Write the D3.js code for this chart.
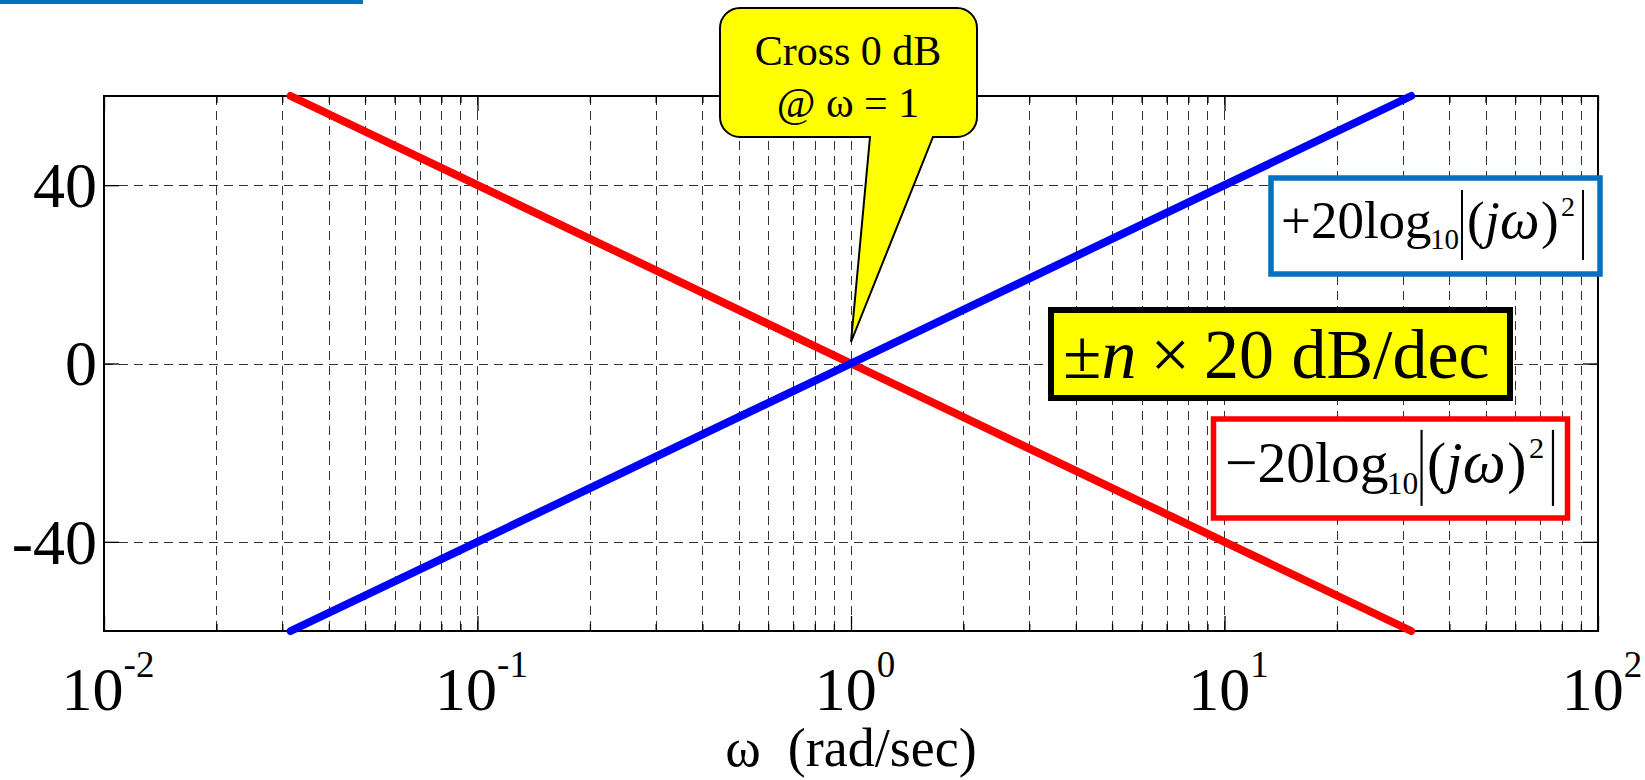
<!DOCTYPE html>
<html>
<head>
<meta charset="utf-8">
<script src="https://cdn.jsdelivr.net/npm/d3@7"></script>
<style>
  html, body { margin: 0; padding: 0; background: #fff; }
  svg { display: block; }
  text { font-family: 'Liberation Serif', 'Times New Roman', serif; fill: #000; }
</style>
</head>
<body>
<svg id="chart" width="1645" height="780"></svg>
<script>
// asymptote data (omega in rad/sec, magnitude in dB)
const omega = [0.0316, 0.1, 1, 10, 31.6]
const plusMag = [-60, -40, 0, 40, 60]     // +20log10|(jw)^2|
const minusMag = [60, 40, 0, -40, -60]    // -20log10|(jw)^2|

const yTicks = [-40, 0, 40]
const yTickLabels = ['-40', '0', '40']
const xDecades = [0.01, 0.1, 1, 10, 100]
const xExponents = ['-2', '-1', '0', '1', '2']

const W = 1645, H = 780
const plot = { left: 104, right: 1598, top: 96, bottom: 631 }

const svg = d3.select('#chart')
svg.append('rect').attr('width', W).attr('height', H).attr('fill', '#fff')

// slide header bar
svg.append('rect').attr('x', 0).attr('y', 0).attr('width', 363).attr('height', 4).attr('fill', '#0070c0')

const x = d3.scaleLog().domain([0.01, 100]).range([plot.left, plot.right])
const y = d3.scaleLinear().domain([-60, 60]).range([plot.bottom, plot.top])

const gridVals = x.ticks().filter(v => v > 0.01 && v < 100)
const majorX = xDecades
const minorX = x.ticks().filter(v => !xDecades.includes(v))

// grid
const grid = svg.append('g').attr('stroke', '#333').attr('stroke-width', 1)
    .attr('stroke-dasharray', '9,6').attr('shape-rendering', 'crispEdges')
grid.selectAll('.vg').data(gridVals).enter().append('line')
    .attr('x1', d => Math.round(x(d)) + 0.5).attr('x2', d => Math.round(x(d)) + 0.5)
    .attr('y1', plot.top).attr('y2', plot.bottom)
grid.selectAll('.hg').data(yTicks).enter().append('line')
    .attr('x1', plot.left).attr('x2', plot.right)
    .attr('y1', d => Math.round(y(d)) + 0.5).attr('y2', d => Math.round(y(d)) + 0.5)

// ticks (inside, mirrored on all four sides)
const h = plot.bottom - plot.top
const addAxis = (axis, tx, ty) => {
    const g = svg.append('g').attr('transform', `translate(${tx},${ty})`).call(axis)
    g.select('.domain').remove()
    g.selectAll('text').remove()
    g.selectAll('line').attr('stroke', '#000').attr('stroke-width', 1.3)
}
addAxis(d3.axisBottom(x).tickValues(majorX).tickSize(-15), 0, plot.bottom)
addAxis(d3.axisBottom(x).tickValues(minorX).tickSize(-7), 0, plot.bottom)
addAxis(d3.axisTop(x).tickValues(majorX).tickSize(-15), 0, plot.top)
addAxis(d3.axisTop(x).tickValues(minorX).tickSize(-7), 0, plot.top)
addAxis(d3.axisLeft(y).tickValues(yTicks).tickSize(-15), plot.left, 0)
addAxis(d3.axisRight(y).tickValues(yTicks).tickSize(-15), plot.right, 0)

// frame
svg.append('rect')
    .attr('x', plot.left).attr('y', plot.top)
    .attr('width', plot.right - plot.left).attr('height', h)
    .attr('fill', 'none').attr('stroke', '#000').attr('stroke-width', 2)

// tick labels
svg.selectAll('.ylab').data(yTicks).enter().append('text')
    .attr('x', 97).attr('y', d => y(d)).attr('dy', '0.34em')
    .attr('text-anchor', 'end').attr('font-size', 64)
    .text((d, i) => yTickLabels[i])

const xl = svg.selectAll('.xlab').data(xDecades).enter().append('text')
    .attr('x', d => x(d) + 4).attr('y', 710)
    .attr('text-anchor', 'middle').attr('font-size', 62)
xl.append('tspan').text('10')
xl.append('tspan').attr('dy', -33).attr('font-size', 37).text((d, i) => xExponents[i])

svg.append('text')
    .attr('x', (plot.left + plot.right) / 2).attr('y', 766)
    .attr('text-anchor', 'middle').attr('font-size', 54)
    .attr('xml:space', 'preserve')
    .text('\u03c9  (rad/sec)')

// asymptote lines
const line = d3.line().x(d => x(d[0])).y(d => y(d[1]))
const series = [
    { vals: minusMag, color: '#ff0000' },
    { vals: plusMag, color: '#0000ff' }
]
series.forEach(s => {
    svg.append('path')
        .datum(omega.map((w, i) => [w, s.vals[i]]))
        .attr('d', line)
        .attr('fill', 'none').attr('stroke', s.color)
        .attr('stroke-width', 8).attr('stroke-linecap', 'round').attr('stroke-linejoin', 'round')
})

// callout
const c = { l: 720, r: 977, t: 8, b: 137, rad: 20 }
svg.append('path')
    .attr('d', `M${c.l + c.rad},${c.t} H${c.r - c.rad} A${c.rad},${c.rad} 0 0 1 ${c.r},${c.t + c.rad}
        V${c.b - c.rad} A${c.rad},${c.rad} 0 0 1 ${c.r - c.rad},${c.b} H933 L${x(1)},342 L870,${c.b}
        H${c.l + c.rad} A${c.rad},${c.rad} 0 0 1 ${c.l},${c.b - c.rad} V${c.t + c.rad}
        A${c.rad},${c.rad} 0 0 1 ${c.l + c.rad},${c.t} Z`)
    .attr('fill', '#ffff00').attr('stroke', '#000').attr('stroke-width', 2)
svg.append('text').attr('x', 848).attr('y', 65).attr('text-anchor', 'middle').attr('font-size', 42).text('Cross 0 dB')
svg.append('text').attr('x', 848).attr('y', 117).attr('text-anchor', 'middle').attr('font-size', 42).text('@ \u03c9 = 1')

// slope box
svg.append('rect').attr('x', 1051).attr('y', 310).attr('width', 459).attr('height', 88)
    .attr('fill', '#ffff00').attr('stroke', '#000').attr('stroke-width', 6)
const slope = svg.append('text').attr('x', 1063).attr('y', 378).attr('font-size', 70)
slope.append('tspan').text('\u00b1')
slope.append('tspan').attr('font-style', 'italic').text('n')
slope.append('tspan').attr('dx', 14).text('\u00d7')
slope.append('tspan').attr('dx', 14).text('20 dB/dec')

// equation labels
function drawEq(x0, base, k, sign) {
    const g = svg.append('g').attr('transform', `translate(${x0},${base}) scale(${k})`)
    const t = (tx, ty, size, str, italic) => g.append('text')
        .attr('x', tx).attr('y', ty).attr('font-size', size)
        .attr('font-style', italic ? 'italic' : null).text(str)
    const bar = bx => g.append('line').attr('x1', bx).attr('x2', bx).attr('y1', -48).attr('y2', 22)
        .attr('stroke', '#000').attr('stroke-width', 2)
    t(0, 0, 53, sign + '20log')
    t(149, 11, 29, '10')
    bar(181)
    t(186, 0, 53, '(')
    t(204, 0, 53, 'j', true)
    t(219, 0, 56, '\u03c9', true)
    t(260, 0, 53, ')')
    t(280, -22, 28, '2')
    bar(302)
}

svg.append('rect').attr('x', 1271).attr('y', 178).attr('width', 329).attr('height', 96)
    .attr('fill', '#fff').attr('stroke', '#0070c0').attr('stroke-width', 5.5)
drawEq(1281, 238, 1, '+')

svg.append('rect').attr('x', 1213.5).attr('y', 419).attr('width', 354).attr('height', 99)
    .attr('fill', '#fff').attr('stroke', '#ff0000').attr('stroke-width', 5.5)
drawEq(1225, 482, 1.086, '\u2212')
</script>
</body>
</html>
